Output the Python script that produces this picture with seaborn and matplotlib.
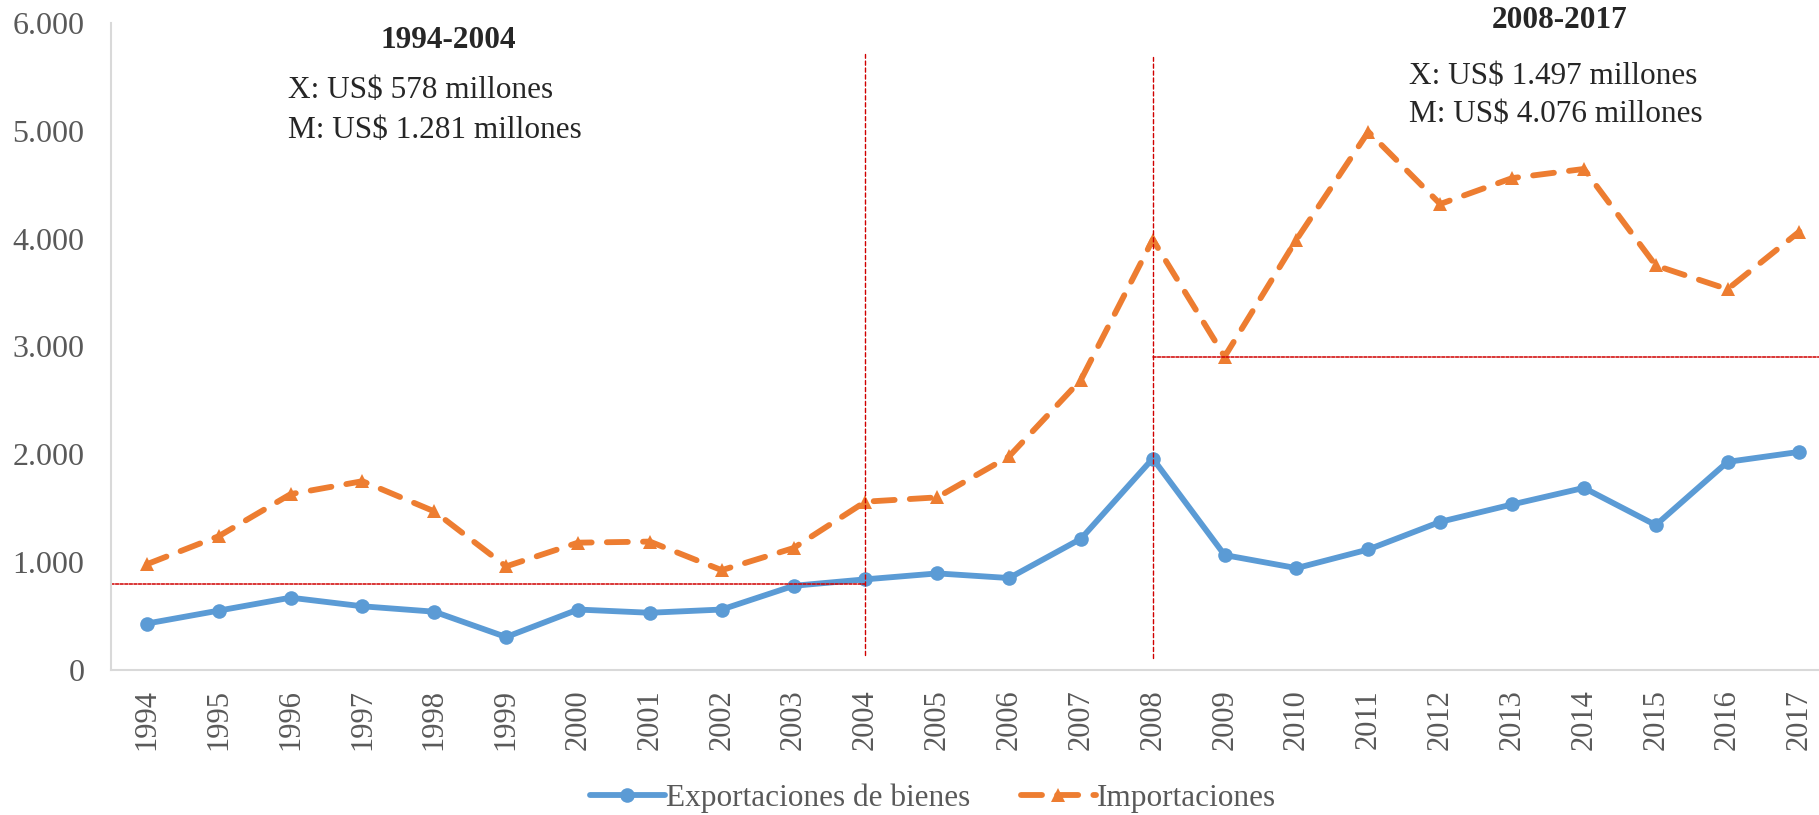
import matplotlib
matplotlib.use("Agg")
import matplotlib.pyplot as plt
from matplotlib.ticker import FuncFormatter, MultipleLocator
import pandas as pd
import seaborn as sns

# Datos (millones de US$)
years = list(range(1994, 2018))
exportaciones = [430, 550, 670, 590, 540, 305, 560, 530, 560, 780, 840, 895,
                 852, 1216, 1960, 1065, 944, 1117, 1373, 1534, 1688, 1343, 1929, 2022]
importaciones = [980, 1240, 1630, 1750, 1470, 960, 1180, 1190, 925, 1130, 1560, 1600,
                 1980, 2690, 3990, 2905, 3990, 4990, 4320, 4560, 4645, 3750, 3530, 4065]
series = ["Exportaciones de bienes", "Importaciones"]

df = pd.DataFrame({
    "Año": years * 2,
    "valor": exportaciones + importaciones,
    "serie": [series[0]] * len(years) + [series[1]] * len(years),
})

sns.set_style("white")
plt.rcParams["font.family"] = ["Liberation Serif", "DejaVu Serif"]
plt.rcParams["lines.dash_capstyle"] = "round"

fig = plt.figure(figsize=(18.19, 8.15), dpi=100)
ax = fig.add_axes([0.061, 0.178, 0.948, 0.794])

sns.lineplot(data=df, x="Año", y="valor", hue="serie", style="serie",
             palette={series[0]: "#5B9BD5", series[1]: "#ED7D31"},
             markers={series[0]: "o", series[1]: "^"},
             dashes={series[0]: "", series[1]: (3.6, 2.6)},
             linewidth=4.2, markersize=10.5, markeredgewidth=0, ax=ax)

# lineas de referencia
red = "#D00000"
ax.plot([1993.5, 2004], [800, 800], color=red, lw=1.1, ls=(0, (2, 1)))
ax.plot([2008, 2017.5], [2905, 2905], color=red, lw=1.1, ls=(0, (2, 1)))
ax.plot([2004, 2004], [140, 5710], color=red, lw=1.0, ls=(0, (3, 2)))
ax.plot([2008, 2008], [110, 5680], color=red, lw=1.0, ls=(0, (3, 2)))

# textos
fs = 22.5
ax.text(1998.2, 5840, "1994-2004", ha="center", va="center", fontsize=fs, fontweight="bold")
ax.text(1995.97, 5375, "X: US$ 578 millones", ha="left", va="center", fontsize=fs)
ax.text(1995.97, 5000, "M: US$ 1.281 millones", ha="left", va="center", fontsize=fs)
ax.text(2013.66, 6020, "2008-2017", ha="center", va="center", fontsize=fs, fontweight="bold")
ax.text(2011.56, 5505, "X: US$ 1.497 millones", ha="left", va="center", fontsize=fs)
ax.text(2011.56, 5150, "M: US$ 4.076 millones", ha="left", va="center", fontsize=fs)

ax.set_xlim(1993.5, 2017.5)
ax.set_ylim(0, 6000)
ax.set_xticks(years)
ax.set_xticklabels([str(y) for y in years], rotation=90)
ax.xaxis.set_minor_locator(MultipleLocator(1, offset=0.5))
ax.yaxis.set_major_locator(MultipleLocator(1000))
ax.yaxis.set_major_formatter(FuncFormatter(lambda v, p: f"{int(v):,}".replace(",", ".")))
ax.tick_params(axis="x", which="major", length=0, labelsize=22, labelcolor="#595959", pad=14)
ax.tick_params(axis="x", which="minor", length=7, color="#d9d9d9", width=1.5)
ax.tick_params(axis="y", which="major", length=7, color="#d9d9d9", width=1.5,
               labelsize=23, labelcolor="#595959", pad=12)
ax.set_xlabel("")
ax.set_ylabel("")
for side in ["top", "right"]:
    ax.spines[side].set_visible(False)
for side in ["left", "bottom"]:
    ax.spines[side].set_color("#d9d9d9")
    ax.spines[side].set_linewidth(1.5)

handles, labels = ax.get_legend_handles_labels()
ax.legend_.remove()
leg = fig.legend(handles, labels, loc="center", bbox_to_anchor=(0.513, 0.021),
                 ncol=2, frameon=False, fontsize=22.5, handlelength=2.4,
                 columnspacing=1.6, handletextpad=0.05)
for t in leg.get_texts():
    t.set_color("#595959")

fig.savefig("out.png", dpi=100)
